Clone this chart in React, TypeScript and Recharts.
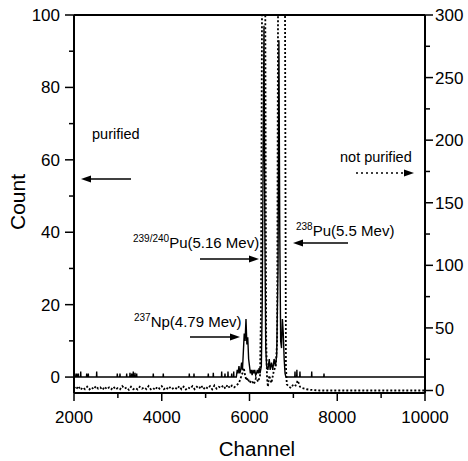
import React from "react";
import { LineChart, Line, XAxis, YAxis, ReferenceLine } from "recharts";

// axis ticks (majors get labels, the rest are minor ticks)
const channelTicks = [2000, 3000, 4000, 5000, 6000, 7000, 8000, 9000, 10000];
const countTicks = [0, 10, 20, 30, 40, 50, 60, 70, 80, 90, 100];
const rightTicks = [0, 25, 50, 75, 100, 125, 150, 175, 200, 225, 250, 275, 300];

// purified sample (left axis): single-count spikes on the empty baseline
const purifiedSpikeChannels = [2023, 2062, 2098, 2153, 2289, 2326, 2517, 2987, 3048, 3201, 3276, 3315, 3351, 3390, 3429, 3807, 4035, 4628, 4735, 5061, 5175, 5366, 5441, 5510, 5594, 5640, 7037, 7080, 7150, 7418, 7698];
const purifiedSpikeCounts = [1, 1, 1, 1.5, 1, 1, 1.5, 1, 1, 1, 1.2, 1, 1.5, 1.2, 1, 1, 1, 1, 1, 1, 1.2, 1.5, 1, 1.5, 1, 1.5, 1.5, 2, 1.5, 1.5, 1];

// purified sample around the alpha peaks
const purifiedPeakChannels = [5700, 5720, 5740, 5760, 5780, 5800, 5820, 5840, 5860, 5880, 5900, 5920, 5940, 5960, 5980, 6000, 6020, 6040, 6060, 6080, 6100, 6120, 6140, 6160, 6180, 6200, 6220, 6240, 6270, 6290, 6310, 6330, 6350, 6370, 6390, 6420, 6450, 6470, 6500, 6530, 6560, 6590, 6620, 6650, 6670, 6690, 6710, 6730, 6750, 6770, 6790, 6810, 6830];
const purifiedPeakCounts = [0, 2, 1, 3, 1, 2, 4, 2, 7, 12, 10, 16, 9, 11, 5, 3, 1, 2, 0.5, 2, 1, 2, 0.5, 1, 2, 1, 2.5, 1, 3, 20, 60, 97, 40, 8, 3, 2, 5, 2, 4, 2, 5, 3, 6, 30, 93, 40, 10, 8, 16, 12, 5, 1, 0];

// not purified sample (right axis)
const rawChannels = [2000, 2050, 2100, 2150, 2200, 2250, 2300, 2350, 2400, 2450, 2500, 2550, 2600, 2650, 2700, 2750, 2800, 2850, 2900, 2950, 3000, 3050, 3100, 3150, 3200, 3250, 3300, 3350, 3400, 3450, 3500, 3550, 3600, 3650, 3700, 3750, 3800, 3850, 3900, 3950, 4000, 4050, 4100, 4150, 4200, 4250, 4300, 4350, 4400, 4450, 4500, 4550, 4600, 4650, 4700, 4750, 4800, 4850, 4900, 4950, 5000, 5050, 5100, 5150, 5200, 5250, 5300, 5350, 5400, 5450, 5500, 5550, 5600, 5650, 5700, 5760, 5800, 5840, 5870, 5900, 5930, 5960, 6000, 6050, 6100, 6150, 6200, 6240, 6260, 6290, 6330, 6360, 6380, 6400, 6420, 6450, 6500, 6550, 6600, 6630, 6650, 6700, 6780, 6810, 6830, 6850, 6900, 6950, 7000, 7050, 7100, 7150, 7200, 7300, 7400, 7600, 8000, 9000, 10000];
const rawCounts = [3, 1, 3.5, 0.5, 2.5, 1, 3, 0.8, 2.5, 1, 3.5, 1.5, 2.5, 0.5, 3, 1, 2.5, 1, 3, 0.8, 2, 1, 3.5, 1.5, 2.5, 0.5, 3, 1, 2, 0.8, 3, 1.5, 2.5, 1, 3.5, 1, 2, 0.5, 3, 1.5, 3.5, 1, 2.5, 0.8, 3, 1.5, 2.5, 1, 3.5, 1, 3, 0.8, 2.5, 1.5, 3.5, 1, 3, 1.5, 4, 1, 3, 1.5, 3.5, 1, 4, 1.5, 3, 2, 4, 1.5, 4.5, 2, 4, 2.5, 4, 6, 10, 14, 18, 12, 8, 10, 6, 8, 5, 10, 7, 12, 60, 350, 400, 300, 40, 10, 3, 12, 6, 15, 20, 40, 300, 380, 380, 300, 20, 5, 3, 2, 5, 4, 8, 3, 2, 1, 0.5, 0, 0, 0, 0];

const purifiedData = (() => {
  const pts: { ch: number; v: number }[] = [{ ch: 2000, v: 0 }, { ch: 10000, v: 0 }];
  purifiedSpikeChannels.forEach((c, i) => {
    pts.push({ ch: c - 5, v: 0 }, { ch: c, v: purifiedSpikeCounts[i] }, { ch: c + 5, v: 0 });
  });
  purifiedPeakChannels.forEach((c, i) => pts.push({ ch: c, v: purifiedPeakCounts[i] }));
  return pts.sort((a, b) => a.ch - b.ch);
})();

const rawData = rawChannels.map((ch, i) => ({ ch, v: rawCounts[i] }));

const FONT = "'Liberation Sans', Arial, sans-serif";

const LeftTick = (p: any) => {
  const v = p.payload.value;
  const major = v % 20 === 0;
  return (
    <g>
      <line x1={p.x} x2={p.x - (major ? 9 : 5)} y1={p.y} y2={p.y} stroke="#000" strokeWidth={1.5} />
      {major && (
        <text x={p.x - 14} y={p.y + 6} textAnchor="end" fontSize={17} fontFamily={FONT} fill="#000">{v}</text>
      )}
    </g>
  );
};

const RightTick = (p: any) => {
  const v = p.payload.value;
  const major = v % 50 === 0;
  return (
    <g>
      <line x1={p.x} x2={p.x + (major ? 8 : 5)} y1={p.y} y2={p.y} stroke="#000" strokeWidth={1.5} />
      {major && (
        <text x={p.x + 10} y={p.y + 6} textAnchor="start" fontSize={17} fontFamily={FONT} fill="#000">{v}</text>
      )}
    </g>
  );
};

const BottomTick = (p: any) => {
  const v = p.payload.value;
  const major = v % 2000 === 0;
  return (
    <g>
      <line x1={p.x} x2={p.x} y1={p.y} y2={p.y + (major ? 8 : 5)} stroke="#000" strokeWidth={1.5} />
      {major && (
        <text x={p.x} y={p.y + 30} textAnchor="middle" fontSize={17} fontFamily={FONT} fill="#000">{v}</text>
      )}
    </g>
  );
};

const Arrow = ({ x1, x2, y, dashed }: { x1: number; x2: number; y: number; dashed?: boolean }) => {
  const dir = x2 > x1 ? 1 : -1;
  const base = x2 - dir * 10;
  return (
    <g>
      <line x1={x1} x2={base} y1={y} y2={y} stroke="#000" strokeWidth={1.5} strokeDasharray={dashed ? "2 3" : undefined} />
      <polygon points={`${x2},${y} ${base},${y - 3.5} ${base},${y + 3.5}`} fill="#000" />
    </g>
  );
};

const Annotations = () => (
  <svg width={468} height={461} style={{ position: "absolute", left: 0, top: 0, pointerEvents: "none" }}>
    <g fontFamily={FONT} fill="#000">
      <text x={25} y={202} fontSize={21} textAnchor="middle" transform="rotate(-90 25 202)">Count</text>
      <text x={257} y={456} fontSize={20.5} textAnchor="middle">Channel</text>

      <text x={92} y={139} fontSize={14.5}>purified</text>
      <Arrow x1={131} x2={81} y={179} />

      <text x={340} y={162} fontSize={14.5}>not purified</text>
      <Arrow x1={356} x2={414} y={173} dashed />

      <text x={133} y={248} fontSize={15}>
        <tspan fontSize={10} dy={-6}>239/240</tspan>
        <tspan dy={6}>Pu(5.16 Mev)</tspan>
      </text>
      <Arrow x1={200} x2={259} y={259} />

      <text x={296} y={236} fontSize={15}>
        <tspan fontSize={10} dy={-6}>238</tspan>
        <tspan dy={6}>Pu(5.5 Mev)</tspan>
      </text>
      <Arrow x1={348} x2={293} y={243} />

      <text x={134} y={327} fontSize={15}>
        <tspan fontSize={10} dy={-6}>237</tspan>
        <tspan dy={6}>Np(4.79 Mev)</tspan>
      </text>
      <Arrow x1={190} x2={240} y={337} />
    </g>
  </svg>
);

export default function App() {
  return (
    <div style={{ position: "absolute", left: 0, top: 0, width: 468, height: 461, background: "#fff" }}>
      <LineChart width={468} height={461} margin={{ top: 15, right: 0, left: 24, bottom: 0 }}>
        <XAxis
          dataKey="ch"
          type="number"
          domain={[2000, 10000]}
          ticks={channelTicks}
          allowDataOverflow
          height={68}
          tickSize={0}
          tickMargin={0}
          tickLine={false}
          tick={<BottomTick />}
          axisLine={{ stroke: "#000", strokeWidth: 2 }}
          interval={0}
        />
        <YAxis
          yAxisId="left"
          type="number"
          domain={[-4.4, 100]}
          ticks={countTicks}
          allowDataOverflow
          width={50}
          tickSize={0}
          tickMargin={0}
          tickLine={false}
          tick={<LeftTick />}
          axisLine={{ stroke: "#000", strokeWidth: 2 }}
          interval={0}
        />
        <YAxis
          yAxisId="right"
          orientation="right"
          type="number"
          domain={[-2, 300]}
          ticks={rightTicks}
          allowDataOverflow
          width={43}
          tickSize={0}
          tickMargin={0}
          tickLine={false}
          tick={<RightTick />}
          axisLine={{ stroke: "#000", strokeWidth: 2 }}
          interval={0}
        />
        <ReferenceLine yAxisId="left" y={100} stroke="#000" strokeWidth={2} />
        <Line
          yAxisId="left"
          data={purifiedData}
          dataKey="v"
          type="linear"
          stroke="#000"
          strokeWidth={1.4}
          dot={false}
          isAnimationActive={false}
        />
        <Line
          yAxisId="right"
          data={rawData}
          dataKey="v"
          type="linear"
          stroke="#000"
          strokeWidth={1.8}
          strokeDasharray="2 2"
          dot={false}
          isAnimationActive={false}
        />
      </LineChart>
      <Annotations />
    </div>
  );
}
